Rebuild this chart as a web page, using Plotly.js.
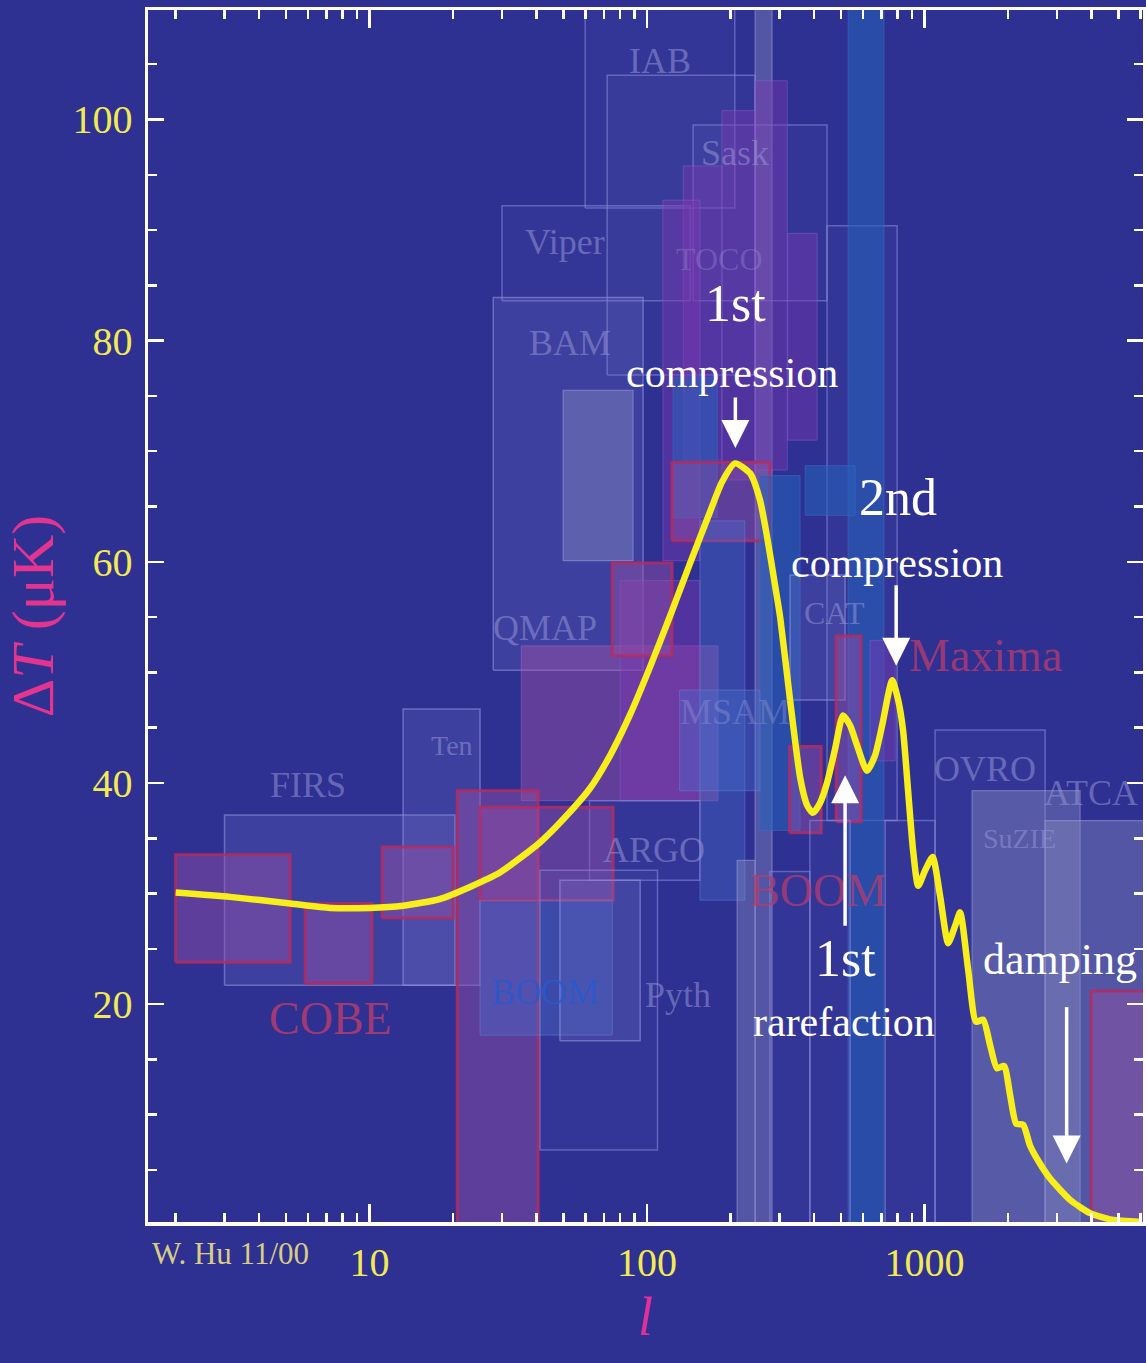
<!DOCTYPE html>
<html>
<head>
<meta charset="utf-8">
<script src="https://cdn.plot.ly/plotly-3.0.1.min.js"></script>
<style>html,body{margin:0;padding:0;background:#2e3092;}#chart{width:1146px;height:1363px;}</style>
</head>
<body>
<div id="chart"></div>
<script>
// ---- theory curve (multipole l, Delta T in microK) ----
const ell = [2.0, 3.14, 5.17, 7.2, 10, 13.2, 17.9, 23, 29.5, 34.8, 41, 48.5, 62.2, 73.6, 86.9, 102.5, 121, 143, 169, 186, 207.5, 235, 255, 270, 289, 301.6, 327.5, 356, 377, 396, 420, 445, 476, 508, 539, 571, 620, 663, 703, 764, 803, 836, 872, 909, 948, 1005, 1069, 1137, 1216, 1289, 1343, 1436, 1533, 1625, 1722, 1824, 1934, 2032, 2138, 2265, 2400, 2587, 2819, 3344, 3946, 4735, 6000];
const dT  = [30.1, 29.7, 29.1, 28.7, 28.7, 28.9, 29.5, 30.6, 31.9, 33.2, 34.6, 36.4, 39.5, 42.5, 46.2, 50.5, 55.1, 59.9, 64.6, 67.2, 68.9, 68.0, 65.6, 62.4, 57.9, 55.0, 47.5, 40.5, 38.0, 37.3, 38.2, 40.0, 43.1, 46.1, 45.2, 43.4, 41.1, 42.5, 45.2, 49.3, 47.5, 44.8, 39.3, 33.9, 30.7, 32.1, 33.3, 29.8, 25.5, 27.1, 28.3, 23.1, 18.4, 18.6, 16.3, 14.2, 14.4, 11.8, 9.2, 9.1, 7.2, 5.7, 4.3, 2.3, 1.1, 0.5, 0.3];

// ---- experimental data boxes: l range and Delta T range ----
const boxLmin = [59.8, 71.8, 30, 27.9, 146.5, 445, 245, 530, 245, 186, 135, 114, 321, 49.8, 124, 35.2, 80, 74.9, 123, 155, 255, 371, 327.5, 326, 480, 636, 131, 62, 3.0, 13.2, 2.0, 5.86, 11.1, 20.7, 25, 25, 41.1, 48.5, 211, 277, 386, 721, 1091, 1483, 2718, 3985];
const boxLmax = [207, 245, 143, 96.7, 445, 796, 282, 714, 320, 245, 186, 155, 410, 89, 179, 180, 155, 123, 277, 225, 356, 562, 517, 424, 590, 783, 255, 155, 20.3, 25, 5.17, 10.2, 20.0, 40.5, 75.4, 74.9, 109, 94.4, 245, 386, 539, 1091, 2718, 3634, 7000, 7000];
const boxTmin = [92, 76.9, 83.6, 50.2, 83.6, 36.6, 0, 0, 68.3, 67.4, 69.2, 60.1, 71, 60.1, 64, 38.4, 38.4, 51.5, 61.9, 29.4, 35.7, 64.2, 47.5, 35.5, 36.5, 42, 39.3, 31.2, 21.7, 21.7, 23.8, 21.9, 27.8, 0, 29.4, 17.2, 6.8, 16.7, 0, 0, 0, 0, 0, 0, 0, 0];
const boxTmax = [112, 104, 92.2, 83.9, 99.5, 90.4, 112, 112, 103.5, 100.8, 95.8, 92.7, 89.7, 75.5, 76.7, 52.4, 58.3, 59.9, 69, 63.7, 67.8, 68.7, 58.8, 43.3, 53.3, 52.9, 48.4, 38.4, 37.1, 46.7, 33.5, 29.1, 34.2, 39.3, 37.8, 29.4, 32.1, 31.2, 33, 32, 36.6, 36.6, 44.8, 39.3, 36.6, 21.2];
const boxKind = ['O','O','O','G','O','O','S','B','V','V','V','V','V','S','B','M','V','P','P','C','B','B','G','P','P','V','C','O','G','G','P','P','P','P','P','C','O','G','S','O','O','O','O','S','S','P'];

// ---- experiment names ----
const expNames = ['IAB','Sask','Viper','TOCO','BAM','QMAP','Ten','FIRS','COBE','BOOM','Pyth','ARGO','MSAM','CAT','BOOM','Maxima','OVRO','ATCA','SuZIE'];
const expL     = [111, 208, 50.6, 183, 52.7, 43, 19.8, 6.0, 7.2, 42.8, 129, 106, 208, 474, 413, 1652, 1652, 3985, 2200];
const expT     = [105.3, 97.0, 88.9, 87.4, 79.8, 54, 43.4, 39.8, 18.7, 21.1, 20.8, 33.9, 46.4, 55.4, 30.3, 51.5, 41.3, 39.1, 35.0];

// ---- axis ticks ----
const xTickVals = [10, 100, 1000];
const xTickText = ['10', '100', '1000'];
const xMinorVals = [2,3,4,5,6,7,8,9,20,30,40,50,60,70,80,90,200,300,400,500,600,700,800,900,2000,3000,4000,5000,6000];
const yTickVals = [20, 40, 60, 80, 100];
const yTickText = ['20', '40', '60', '80', '100'];
const yMinorVals = [5,10,15,25,30,35,45,50,55,65,70,75,85,90,95,105];

// ---- styles ----
const kindStyle = {
  O: {fill:'rgba(110,110,200,0.10)', line:'rgba(140,140,220,0.55)', w:1.5},
  G: {fill:'rgba(125,125,205,0.22)', line:'rgba(145,145,220,0.6)', w:1.5},
  S: {fill:'rgba(135,140,190,0.42)', line:'rgba(155,155,215,0.55)', w:1.2},
  B: {fill:'rgba(40,95,185,0.60)', line:'rgba(60,110,200,0.5)', w:1},
  C: {fill:'rgba(70,110,205,0.38)', line:'rgba(110,130,215,0.5)', w:1},
  V: {fill:'rgba(125,55,175,0.45)', line:'rgba(140,100,210,0.45)', w:1},
  M: {fill:'rgba(175,85,165,0.40)', line:'rgba(160,110,200,0.45)', w:1},
  P: {fill:'rgba(150,80,165,0.45)', line:'rgba(178,45,100,0.85)', w:3}
};

const traces = [];
for (let i = 0; i < boxLmin.length; i++) {
  const s = kindStyle[boxKind[i]];
  traces.push({
    type:'scatter', mode:'lines',
    x:[boxLmin[i], boxLmax[i], boxLmax[i], boxLmin[i], boxLmin[i]],
    y:[boxTmin[i], boxTmin[i], boxTmax[i], boxTmax[i], boxTmin[i]],
    fill:'toself', fillcolor:s.fill,
    line:{color:s.line, width:s.w},
    hoverinfo:'skip', showlegend:false
  });
}
traces.push({
  type:'scatter', mode:'lines', x:ell, y:dT,
  line:{color:'#f7ee1c', width:6.5, shape:'spline', smoothing:0.6},
  hoverinfo:'skip', showlegend:false
});

const serif = 'Liberation Serif, Times New Roman, serif';
const ann = [];
const nameColor = {
  'COBE':'rgba(180,60,110,0.85)', 'Maxima':'rgba(180,60,110,0.8)',
  'BOOM':'rgba(40,90,205,0.85)', 'TOCO':'rgba(150,150,215,0.35)', 'MSAM':'rgba(150,150,215,0.4)'
};
const nameSize = {'COBE':46, 'Maxima':46, 'Ten':28, 'SuZIE':28, 'CAT':32, 'TOCO':32};
for (let i = 0; i < expNames.length; i++) {
  let c = nameColor[expNames[i]] || 'rgba(150,150,215,0.55)';
  let sz = nameSize[expNames[i]] || 36;
  if (expNames[i] === 'BOOM' && expL[i] > 200) { c = 'rgba(180,60,110,0.75)'; sz = 46; }
  ann.push({xref:'x', yref:'y', x:Math.log10(expL[i]), y:expT[i], text:expNames[i],
    showarrow:false, font:{family:serif, size:sz, color:c}});
}
// feature labels
const feat = [
  {t:'1st', l:208, T:83.4, s:52},
  {t:'compression', l:203, T:77.1, s:42},
  {t:'2nd', l:800, T:65.8, s:52},
  {t:'compression', l:795, T:59.9, s:42},
  {t:'1st', l:517, T:24.1, s:52},
  {t:'rarefaction', l:512, T:18.4, s:42},
  {t:'damping', l:3078, T:24.0, s:44}
];
feat.forEach(f => ann.push({xref:'x', yref:'y', x:Math.log10(f.l), y:f.T, text:f.t, showarrow:false,
  font:{family:serif, size:f.s, color:'white'}}));
// arrows (head position, tail offset in px)
const arrows = [
  {l:208, T:70.3, ay:-52},
  {l:790, T:50.6, ay:-82},
  {l:517, T:40.7, ay:152},
  {l:3250, T:5.6, ay:-158}
];
arrows.forEach(a => ann.push({xref:'x', yref:'y', x:Math.log10(a.l), y:a.T, text:'', showarrow:true,
  ax:0, ay:a.ay, arrowcolor:'white', arrowwidth:3.5, arrowhead:2, arrowsize:1.6}));
ann.push({xref:'paper', yref:'paper', x:0.002, y:-0.026, xanchor:'left', yanchor:'middle',
  text:'W. Hu 11/00', showarrow:false, font:{family:serif, size:31, color:'#d9cd85'}});

const layout = {
  width:1146, height:1363,
  margin:{l:148, r:3, t:10, b:141},
  paper_bgcolor:'#2e3092', plot_bgcolor:'#2e3092',
  showlegend:false,
  xaxis:{
    type:'log', range:[Math.log10(1.59), Math.log10(6124)],
    tickmode:'array', tickvals:xTickVals, ticktext:xTickText,
    ticks:'inside', ticklen:18, tickwidth:2.5, tickcolor:'white',
    showline:true, linecolor:'white', linewidth:3.5, mirror:'allticks',
    showgrid:false, zeroline:false, ticklabelstandoff:2,
    tickfont:{family:serif, size:40, color:'#f2ea55'},
    minor:{tickmode:'array', tickvals:xMinorVals, ticks:'inside', ticklen:9, tickwidth:2.5, tickcolor:'white', showgrid:false},
    title:{text:'<i>l</i>', font:{family:serif, size:54, color:'#e0309a'}, standoff:14}
  },
  yaxis:{
    range:[0.3, 109.9],
    tickmode:'array', tickvals:yTickVals, ticktext:yTickText,
    ticks:'inside', ticklen:16, tickwidth:2.5, tickcolor:'white',
    showline:true, linecolor:'white', linewidth:3.5, mirror:'allticks',
    showgrid:false, zeroline:false, ticklabelstandoff:4,
    tickfont:{family:serif, size:40, color:'#f2ea55'},
    minor:{tickmode:'array', tickvals:yMinorVals, ticks:'inside', ticklen:9, tickwidth:2.5, tickcolor:'white', showgrid:false},
    title:{text:'Δ<i>T</i> (μK)', font:{family:serif, size:60, color:'#e3358f'}, standoff:4}
  },
  annotations:ann
};
Plotly.newPlot('chart', traces, layout, {displayModeBar:false, staticPlot:true});
</script>
</body>
</html>
